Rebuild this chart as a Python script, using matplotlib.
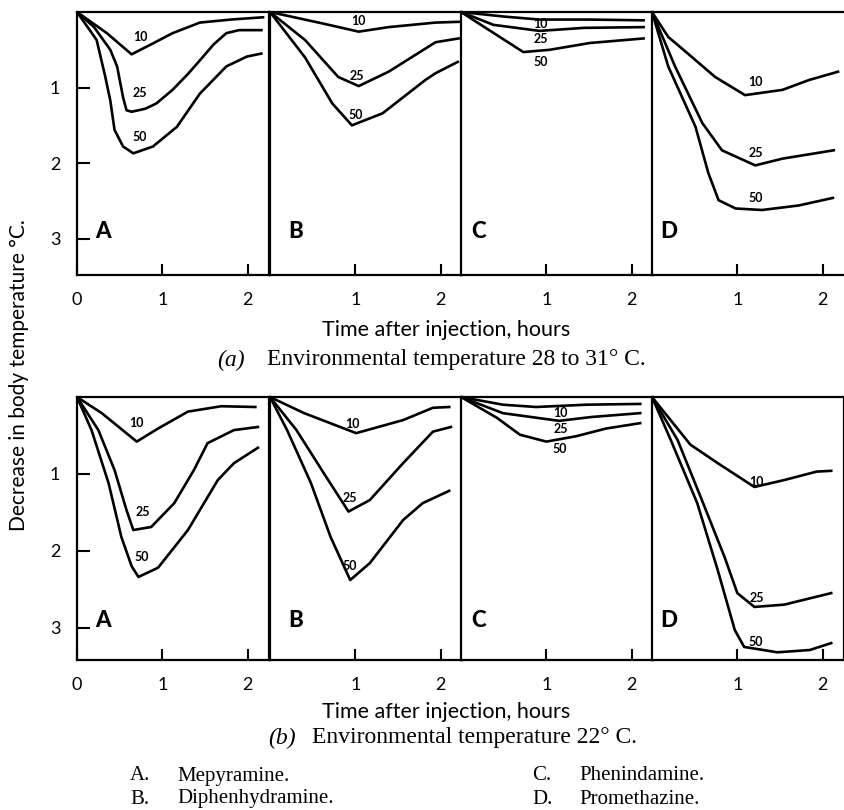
import matplotlib
matplotlib.use("Agg")
import matplotlib.pyplot as plt

# doses (mg/kg) drawn in every panel
doses = [10, 25, 50]
panel_letters = ["A", "B", "C", "D"]
drug_names = ["Mepyramine.", "Diphenhydramine.", "Phenindamine.", "Promethazine."]

# (a) environmental temperature 28 to 31 C  -- time (h), decrease in body temp (C)
a_A = {
    10: ([0, 0.35, 0.64, 0.9, 1.12, 1.44, 1.8, 2.18],
         [0, 0.28, 0.56, 0.41, 0.28, 0.14, 0.1, 0.07]),
    25: ([0, 0.2, 0.39, 0.47, 0.54, 0.58, 0.64, 0.8, 0.93, 1.12, 1.3, 1.44, 1.6, 1.75, 1.9, 2.16],
         [0, 0.2, 0.5, 0.72, 1.13, 1.3, 1.32, 1.28, 1.21, 1.03, 0.82, 0.64, 0.43, 0.28, 0.24, 0.24]),
    50: ([0, 0.23, 0.33, 0.39, 0.44, 0.54, 0.66, 0.89, 1.17, 1.44, 1.75, 1.99, 2.16],
         [0, 0.37, 0.85, 1.17, 1.56, 1.78, 1.87, 1.78, 1.52, 1.08, 0.72, 0.59, 0.55]),
}
a_B = {
    10: ([0, 0.61, 1.04, 1.39, 1.94, 2.21],
         [0, 0.15, 0.26, 0.2, 0.14, 0.13]),
    25: ([0, 0.41, 0.8, 1.04, 1.39, 1.94, 2.21],
         [0, 0.37, 0.86, 0.98, 0.79, 0.4, 0.35]),
    50: ([0, 0.41, 0.73, 0.96, 1.32, 1.82, 1.94, 2.2],
         [0, 0.6, 1.21, 1.5, 1.34, 0.9, 0.81, 0.66]),
}
a_C = {
    10: ([0, 0.5, 0.92, 1.5, 2.14],
         [0, 0.06, 0.1, 0.1, 0.11]),
    25: ([0, 0.38, 0.92, 1.44, 2.14],
         [0, 0.17, 0.25, 0.21, 0.2]),
    50: ([0, 0.33, 0.73, 1.04, 1.51, 2.14],
         [0, 0.24, 0.53, 0.5, 0.41, 0.35]),
}
a_D = {
    10: ([0, 0.19, 0.42, 0.74, 1.09, 1.53, 1.84, 2.18],
         [0, 0.33, 0.55, 0.86, 1.1, 1.03, 0.9, 0.79]),
    25: ([0, 0.27, 0.59, 0.82, 1.21, 1.53, 2.13],
         [0, 0.72, 1.47, 1.83, 2.03, 1.94, 1.83]),
    50: ([0, 0.19, 0.51, 0.66, 0.78, 0.98, 1.29, 1.72, 2.12],
         [0, 0.72, 1.52, 2.13, 2.49, 2.6, 2.62, 2.56, 2.46]),
}

# (b) environmental temperature 22 C
b_A = {
    10: ([0, 0.29, 0.7, 0.95, 1.3, 1.69, 2.09],
         [0, 0.21, 0.58, 0.41, 0.19, 0.12, 0.13]),
    25: ([0, 0.25, 0.44, 0.58, 0.66, 0.87, 1.14, 1.37, 1.53, 1.84, 2.12],
         [0, 0.43, 0.95, 1.47, 1.73, 1.69, 1.38, 0.95, 0.6, 0.43, 0.39]),
    50: ([0, 0.17, 0.37, 0.52, 0.64, 0.72, 0.95, 1.3, 1.65, 1.84, 2.12],
         [0, 0.43, 1.12, 1.82, 2.2, 2.34, 2.22, 1.73, 1.08, 0.86, 0.66]),
}
b_B = {
    10: ([0, 0.4, 1.01, 1.56, 1.91, 2.1],
         [0, 0.21, 0.47, 0.3, 0.14, 0.13]),
    25: ([0, 0.31, 0.63, 0.92, 1.17, 1.56, 1.91, 2.12],
         [0, 0.43, 0.99, 1.49, 1.34, 0.86, 0.45, 0.39]),
    50: ([0, 0.2, 0.48, 0.71, 0.94, 1.17, 1.56, 1.79, 2.1],
         [0, 0.43, 1.12, 1.82, 2.38, 2.16, 1.6, 1.38, 1.22]),
}
b_C = {
    10: ([0, 0.49, 0.88, 1.47, 2.1],
         [0, 0.1, 0.13, 0.1, 0.09]),
    25: ([0, 0.49, 1.15, 1.53, 2.1],
         [0, 0.21, 0.31, 0.26, 0.21]),
    50: ([0, 0.42, 0.69, 1.0, 1.35, 1.7, 2.1],
         [0, 0.27, 0.49, 0.58, 0.51, 0.41, 0.34]),
}
b_D = {
    10: ([0, 0.45, 0.77, 1.2, 1.55, 1.93, 2.1],
         [0, 0.62, 0.86, 1.17, 1.08, 0.97, 0.96]),
    25: ([0, 0.3, 0.57, 0.85, 1.0, 1.2, 1.55, 2.1],
         [0, 0.56, 1.3, 2.08, 2.55, 2.73, 2.7, 2.55]),
    50: ([0, 0.22, 0.53, 0.77, 0.97, 1.08, 1.47, 1.85, 2.1],
         [0, 0.56, 1.38, 2.25, 3.03, 3.25, 3.32, 3.29, 3.2]),
}

# where the dose numbers are written beside each curve (time, decrease)
a_label_pos = [
    {10: (0.74, 0.33), 25: (0.74, 1.07), 50: (0.74, 1.65)},
    {10: (1.04, 0.12), 25: (1.02, 0.85), 50: (1.0, 1.36)},
    {10: (0.93, 0.16), 25: (0.93, 0.36), 50: (0.93, 0.66)},
    {10: (1.21, 0.93), 25: (1.22, 1.87), 50: (1.21, 2.46)},
]
b_label_pos = [
    {10: (0.7, 0.34), 25: (0.77, 1.49), 50: (0.76, 2.08)},
    {10: (0.97, 0.35), 25: (0.94, 1.31), 50: (0.93, 2.2)},
    {10: (1.16, 0.21), 25: (1.17, 0.42), 50: (1.16, 0.68)},
    {10: (1.22, 1.1), 25: (1.23, 2.62), 50: (1.22, 3.18)},
]
letter_pos = [0.3, 0.3, 0.2, 0.2]

rows = [
    ([a_A, a_B, a_C, a_D], a_label_pos, 3.48, 275, "(a)",
     "Environmental temperature 28 to 31\u00b0 C."),
    ([b_A, b_B, b_C, b_D], b_label_pos, 3.42, 660, "(b)",
     "Environmental temperature 22\u00b0 C."),
]

W, H = 845, 810
fig = plt.figure(figsize=(W / 100, H / 100), dpi=100)
sans = "Lato"
serif = "Liberation Serif"

panel_left = [77, 270, 461, 652]
panel_w = 192
row_h = 263

for r, (panels, lab_pos, ybot, bottom_px, tag, caption) in enumerate(rows):
    for i, data in enumerate(panels):
        ax = fig.add_axes([panel_left[i] / W, 1 - bottom_px / H, panel_w / W, row_h / H])
        for d in doses:
            t, y = data[d]
            ax.plot(t, y, color="black", lw=1.9, solid_joinstyle="round")
            lx, ly = lab_pos[i][d]
            ax.text(lx, ly, str(d), fontsize=9, fontweight="bold", family=sans,
                    ha="center", va="center")
        ax.set_xlim(0, 2.25)
        ax.set_ylim(ybot, 0)
        ax.text(letter_pos[i], 2.9, panel_letters[i], fontsize=16, fontweight="black",
                family=sans, ha="center", va="center")
        for s in ax.spines.values():
            s.set_linewidth(1.6)
        if r == 0 and i == 3:
            ax.spines["right"].set_visible(False)
        if i == 0:
            ax.set_xticks([0, 1, 2])
            ax.set_yticks([1, 2, 3])
            ax.set_yticklabels(["1", "2", "3"], family=sans, fontsize=13)
        else:
            ax.set_xticks([1, 2])
            ax.set_yticks([])
        ax.set_xticklabels([str(int(v)) for v in ax.get_xticks()], family=sans, fontsize=13)
        ax.tick_params(axis="x", direction="in", length=8, width=1.5, pad=12)
        ax.tick_params(axis="y", direction="in", length=9, width=1.5, pad=12)

    xlab_y = 330 if r == 0 else 712
    cap_y = 360 if r == 0 else 738
    fig.text(446 / W, 1 - xlab_y / H, "Time after injection, hours", family=sans,
             fontsize=15.5, ha="center", va="center")
    tag_x = 217 if r == 0 else 268
    main_x = 267 if r == 0 else 312
    fig.text(tag_x / W, 1 - cap_y / H, tag, family=serif, style="italic",
             fontsize=17, ha="left", va="center")
    fig.text(main_x / W, 1 - cap_y / H, caption, family=serif,
             fontsize=17, ha="left", va="center")

fig.text(19 / W, 1 - 375 / H, "Decrease in body temperature \u00b0C.", family=sans,
         fontsize=15, rotation=90, ha="center", va="center")

# drug key at the bottom
key_x = [130, 130, 532, 532]
key_y = [776, 799, 776, 799]
for i in range(4):
    fig.text(key_x[i] / W, 1 - key_y[i] / H, panel_letters[i] + ".", family=serif,
             fontsize=15, ha="left", va="center")
    fig.text((key_x[i] + 47) / W, 1 - key_y[i] / H, drug_names[i], family=serif,
             fontsize=15, ha="left", va="center")

fig.savefig("out.png", dpi=100, facecolor="white")
